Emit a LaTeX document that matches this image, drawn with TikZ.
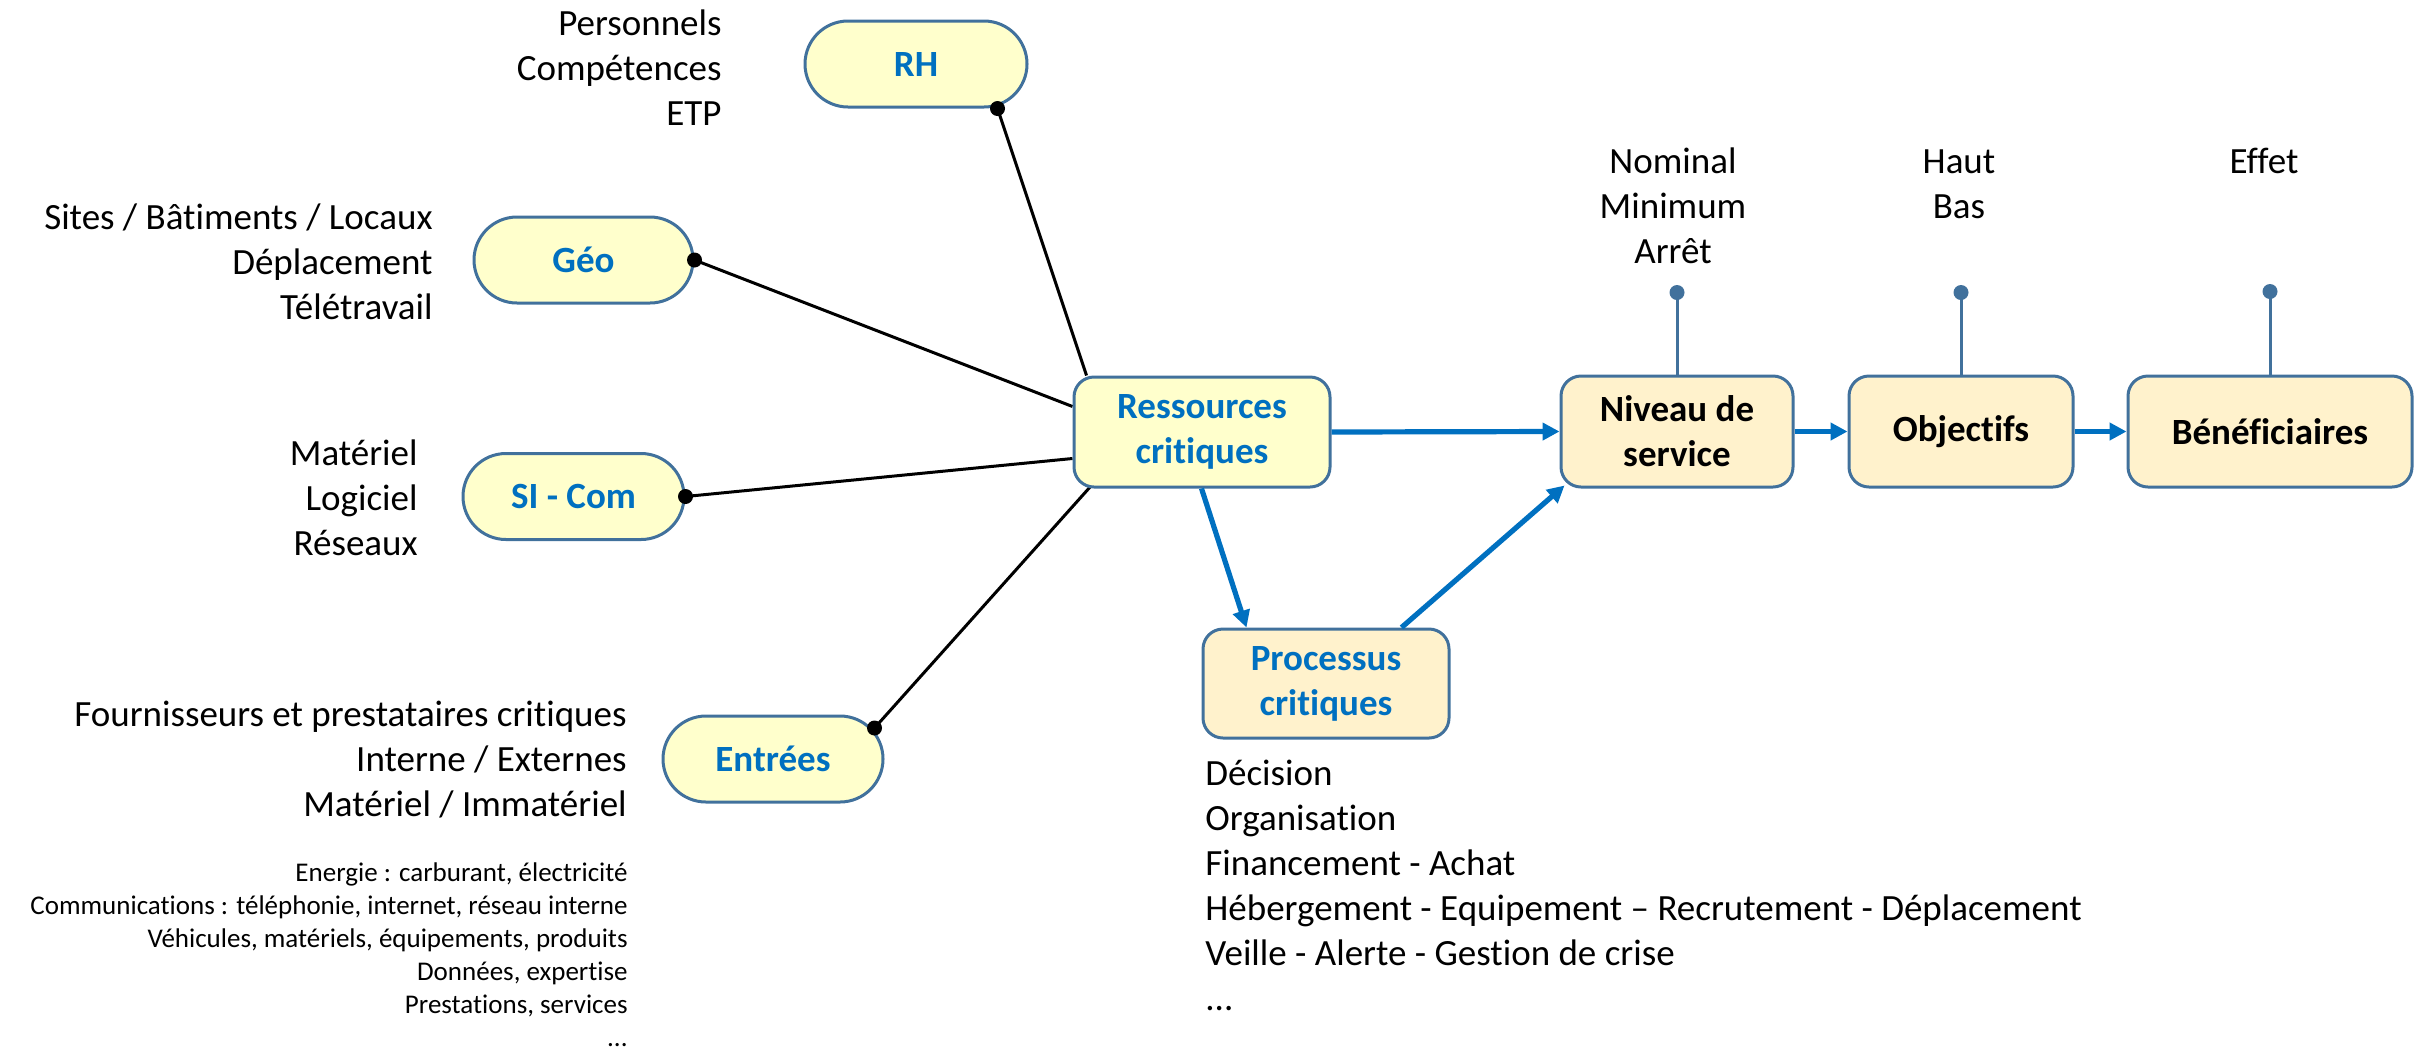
\documentclass[tikz,border=0pt]{standalone}
\usepackage{fontspec}
\setmainfont[Ligatures={NoCommon,NoContextual}]{Carlito}
\usetikzlibrary{arrows.meta,calc,backgrounds}
\definecolor{satfill}{HTML}{FFFFCC}
\definecolor{boxfill}{HTML}{FFF2CC}
\definecolor{bordc}{HTML}{41719C}
\definecolor{bluec}{HTML}{0070C0}
\newcommand\bigf{\fontsize{18.5}{22.5}\selectfont}
\newcommand\smallf{\fontsize{13.5}{16.5}\selectfont}
\begin{document}
\begin{tikzpicture}[x=0.5pt,y=-0.5pt,
  sat/.style={draw=bordc, line width=1.5pt, fill=satfill, rounded corners=21.5pt,
    minimum width=#1, minimum height=43pt, inner sep=0pt, font=\bigf\bfseries, text=bluec},
  bx/.style={draw=bordc, line width=1.5pt, fill=boxfill, rounded corners=10pt,
    minimum width=#1, minimum height=55.5pt, inner sep=0pt, font=\bigf\bfseries, align=center},
  lblr/.style={font=\bigf, align=right, inner sep=0pt, anchor=east},
  lblc/.style={font=\bigf, align=center, inner sep=0pt},
  lbll/.style={font=\bigf, align=left, inner sep=0pt, anchor=west},
  conn/.style={line width=1.5pt, black},
  bdot/.style={fill=black, draw=none},
  flow/.style={line width=2.6pt, bluec, -{Triangle[length=8.5pt,width=8.5pt]}},
  stem/.style={line width=1.5pt, bordc},
  sdot/.style={fill=bordc, draw=none}]
\useasboundingbox (0,0) rectangle (2414,1051);

% satellites
\node[sat=111pt] (rh) at (916,64) {RH};
\node[sat=109.5pt] (geo) at (583.5,260) {Géo};
\node[sat=110.5pt] (si) at (573.5,496.5) {SI - Com};
\node[sat=110pt] (ent) at (773,759) {Entrées};

% central nodes
\node[bx=128pt, fill=satfill, minimum height=55pt, text=bluec] (res) at (1202,432) {Ressources\\critiques};
\node[bx=123pt, minimum height=54.5pt, text=bluec] (proc) at (1326,683.5) {Processus\\critiques};
\node[bx=116pt] (niv) at (1677,431.5) {Niveau de\\service};
\node[bx=112pt] (obj) at (1961,431.5) {Objectifs};
\node[bx=142pt] (ben) at (2270,431.5) {Bénéficiaires};

% side texts
\node[lblr] (trh) at (722,71) {\strut Personnels\\\strut Compétences\\\strut ETP};
\node[lblr] (tgeo) at (433,265.5) {\strut Sites / Bâtiments / Locaux\\\strut Déplacement\\\strut Télétravail};
\node[lblr] (tsi) at (418,501.5) {\strut Matériel\\\strut Logiciel\\\strut Réseaux};
\node[lblr] (tent) at (627,762) {\strut Fournisseurs et prestataires critiques\\\strut Interne / Externes\\\strut Matériel / Immatériel};
\node[lblr, font=\smallf] (tent2) at (628,953) {\strut Energie : carburant, électricité\\\strut Communications : téléphonie, internet, réseau interne\\\strut Véhicules, matériels, équipements, produits\\\strut Données, expertise\\\strut Prestations, services\\...};
\node[lbll] (tproc) at (1205,888.5) {\strut Décision\\\strut Organisation\\\strut Financement - Achat\\\strut Hébergement - Equipement – Recrutement - Déplacement\\\strut Veille - Alerte - Gestion de crise\\\strut ...};
\node[lblc] (tniv) at (1673,209) {\strut Nominal\\\strut Minimum\\\strut Arrêt};
\node[lblc] (tobj) at (1959,186.5) {\strut Haut\\\strut Bas};
\node[lblc] (tben) at (2264,164) {\strut Effet};

% coordinates
\coordinate (rhdot) at ($(rh.south east)+(-31,0)$);
\coordinate (geodot) at (geo.east);
\coordinate (sidot) at (si.east);
\coordinate (entdot) at ($(ent.east)+(-10,-31)$);
\coordinate (rhend) at ($(res.north west)+(14,0)$);
\coordinate (geoend) at ($(res.north west)+(0,31)$);
\coordinate (siend) at ($(res.south west)+(0,-30)$);
\coordinate (entend) at ($(res.south west)+(18,-2)$);
\coordinate (nivdot) at ($(niv.north)+(0,-82)$);
\coordinate (objdot) at ($(obj.north)+(0,-82)$);
\coordinate (bendot) at ($(ben.north)+(0,-83)$);

\begin{scope}[on background layer]
\draw[conn] (rhdot) -- (rhend);
\draw[conn] (geodot) -- (geoend);
\draw[conn] (sidot) -- (siend);
\draw[conn] (entdot) -- (entend);
\end{scope}
\fill[bdot] (rhdot) circle (3.75pt);
\fill[bdot] (geodot) circle (3.75pt);
\fill[bdot] (sidot) circle (3.75pt);
\fill[bdot] (entdot) circle (3.75pt);

% stems
\draw[stem] (nivdot) -- (niv.north);
\draw[stem] (objdot) -- (obj.north);
\draw[stem] (bendot) -- (ben.north);
\fill[sdot] (nivdot) circle (3.75pt);
\fill[sdot] (objdot) circle (3.75pt);
\fill[sdot] (bendot) circle (3.75pt);

% flows
\draw[flow] (res.east) -- (niv.west);
\draw[flow] (niv.east) -- (obj.west);
\draw[flow] (obj.east) -- (ben.west);
\draw[flow] ($(res.south west)+(129,0)$) -- ($(proc.north west)+(45,0)$);
\draw[flow] ($(proc.north west)+(200,0)$) -- ($(niv.south west)+(5,-3)$);
\end{tikzpicture}
\end{document}
